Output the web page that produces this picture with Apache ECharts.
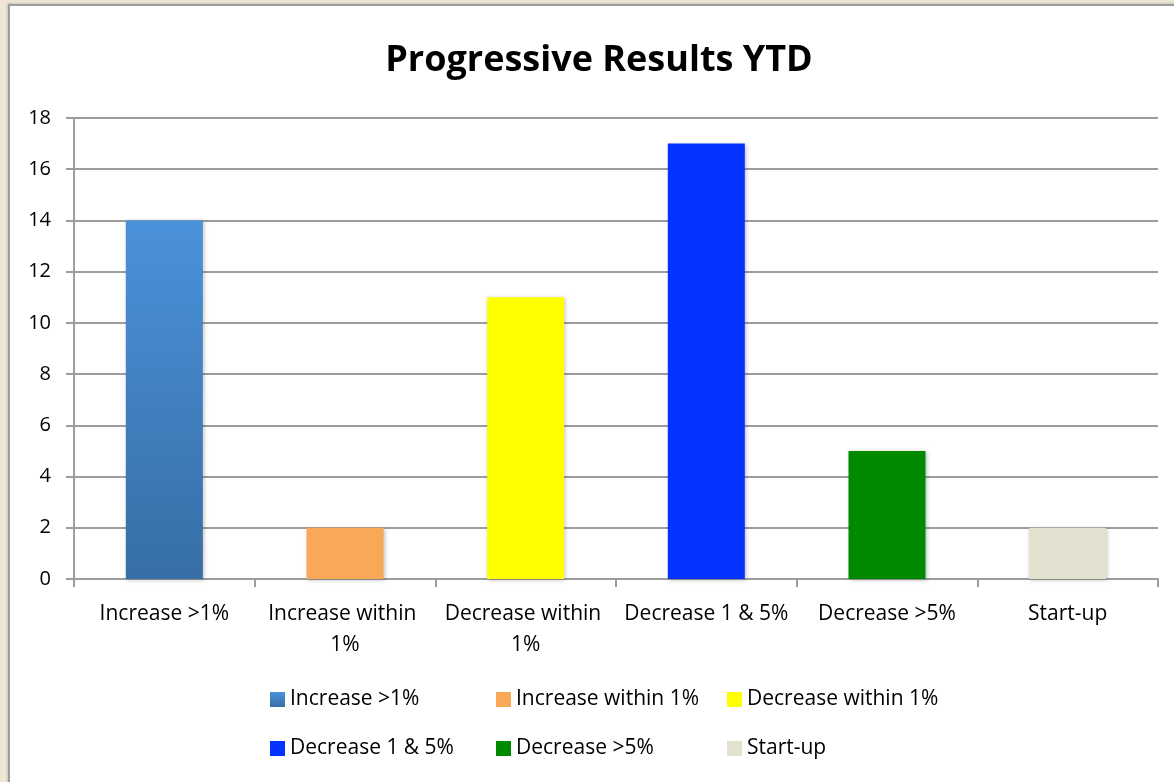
<!DOCTYPE html>
<html>
<head>
<meta charset="utf-8">
<script src="https://cdn.jsdelivr.net/npm/echarts@6/dist/echarts.min.js"></script>
<style>
html,body{margin:0;padding:0;background:#efe7d6;width:1174px;height:782px;overflow:hidden;}
#frame{position:absolute;left:8px;top:4px;width:1200px;height:820px;background:#fff;border-left:2px solid #9d9d9d;border-top:2px solid #9d9d9d;box-shadow:-1px -1px 2px rgba(0,0,0,0.15);}
#chart{position:absolute;left:0;top:0;width:1174px;height:782px;}
</style>
</head>
<body>
<div id="frame"></div>
<div id="chart"></div>
<script>
const categories = ['Increase >1%', 'Increase within 1%', 'Decrease within 1%', 'Decrease 1 & 5%', 'Decrease >5%', 'Start-up'];
const values = [14, 2, 11, 17, 5, 2];
const yTicks = { min: 0, max: 18, interval: 2 };
const legendRow1 = ['Increase >1%', 'Increase within 1%', 'Decrease within 1%'];
const legendRow2 = ['Decrease 1 & 5%', 'Decrease >5%', 'Start-up'];

const FONT = 'Open Sans';
const colors = [
  new echarts.graphic.LinearGradient(0, 0, 0, 1, [
    { offset: 0, color: '#4a92da' },
    { offset: 1, color: '#376ea6' }
  ]),
  '#f9a857', '#ffff00', '#0433ff', '#008a00', '#e2e0ce'
];

const series = categories.map((name, i) => ({
  name: name,
  type: 'bar',
  stack: 'total',
  barWidth: 77,
  data: categories.map((c, j) => (j === i ? values[i] : null)),
  itemStyle: {
    color: colors[i],
    shadowColor: 'rgba(0,0,0,0.25)',
    shadowBlur: 4,
    shadowOffsetX: 1,
    shadowOffsetY: 1
  }
}));

const legendCols = [265, 491, 722];
const legendRowsTop = [684, 733];
const legends = [];
[legendRow1, legendRow2].forEach((row, r) => {
  row.forEach((name, c) => {
    legends.push({
      left: legendCols[c],
      top: legendRowsTop[r],
      orient: 'horizontal',
      icon: 'rect',
      itemWidth: 15,
      itemHeight: 15,
      selectedMode: false,
      data: [name],
      textStyle: { fontFamily: FONT, fontSize: 21, color: '#000', padding: [0, 0, 0, 0] }
    });
  });
});

const chart = echarts.init(document.getElementById('chart'), null, { renderer: 'canvas' });
chart.setOption({
  backgroundColor: 'transparent',
  animation: false,
  title: {
    text: 'Progressive Results YTD',
    left: 594,
    top: 38,
    textAlign: 'center',
    textStyle: { fontFamily: FONT, fontSize: 36, fontWeight: 'bold', color: '#000' }
  },
  legend: legends,
  grid: { left: 74, right: 16, top: 118, bottom: 203, containLabel: false },
  xAxis: {
    type: 'category',
    data: categories,
    axisLine: { lineStyle: { color: '#9d9d9d', width: 2 } },
    axisTick: { show: true, length: 8, lineStyle: { color: '#9d9d9d', width: 2 } },
    axisLabel: {
      interval: 0,
      margin: 20,
      fontFamily: FONT,
      fontSize: 21,
      color: '#000',
      width: 174,
      overflow: 'break',
      lineHeight: 31
    }
  },
  yAxis: {
    type: 'value',
    min: yTicks.min,
    max: yTicks.max,
    interval: yTicks.interval,
    axisLine: { show: true, lineStyle: { color: '#9d9d9d', width: 2 } },
    axisTick: { show: true, length: 8, lineStyle: { color: '#9d9d9d', width: 2 } },
    axisLabel: { margin: 23, fontFamily: FONT, fontSize: 20, color: '#000' },
    splitLine: { show: true, lineStyle: { color: '#9d9d9d', width: 2 } }
  },
  series: series
});
</script>
</body>
</html>
